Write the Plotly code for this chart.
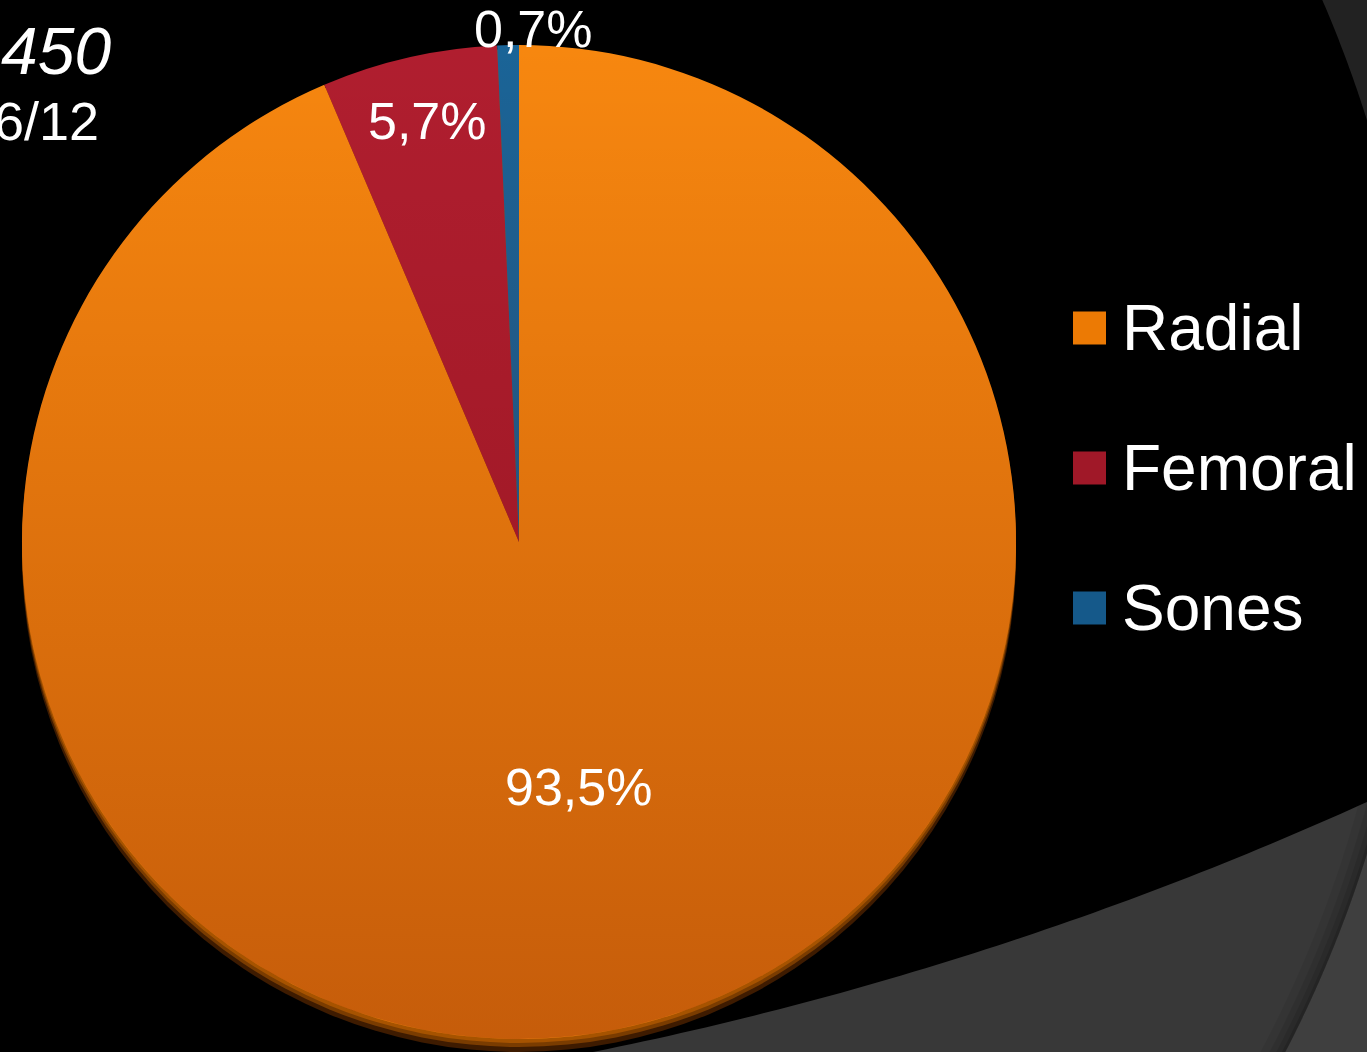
import base64
import numpy as np
import plotly.graph_objects as go

# ---- data -------------------------------------------------------------
categories = ["Radial", "Femoral", "Sones"]
shares = [93.5, 5.7, 0.7]          # percent of cases
header_lines = ["450", "6/12"]

# ---- styling ----------------------------------------------------------
W, H = 1367, 1052
slice_colors = ["#F7870F", "#B01E2F", "#1A6497"]
legend_colors = ["#EC7A04", "#A01828", "#15598A"]
FONT = "Liberation Sans, Arial, sans-serif"

# pie geometry in pixels
CX, CY, R = 519, 542, 497


def px(x):
    return x / W


def py(y):
    return 1 - y / H


def arc_path(cx, cy, r, a0, a1, extra=(), close=True, n=120):
    """Polyline approximation of a circular arc (screen pixels, y down)."""
    t = np.radians(np.linspace(a0, a1, n))
    xs = cx + r * np.cos(t)
    ys = cy + r * np.sin(t)
    pts = list(zip(xs, ys)) + list(extra)
    d = "M " + " L ".join(f"{px(x):.5f},{py(y):.5f}" for x, y in pts)
    return d + (" Z" if close else "")


shapes = []

# background swoosh: grey area outside the large black disc
C1 = (-118, -2472, 3595)
shapes.append(dict(type="path", xref="paper", yref="paper", layer="below",
                   path=arc_path(*C1, 82, 58, extra=[(1750, 1150)]),
                   fillcolor="#383838", line=dict(width=0)))
# second ring on the right edge
C2 = (195, 487, 1228)
shapes.append(dict(type="path", xref="paper", yref="paper", layer="below",
                   path=arc_path(*C2, -30, -12, extra=[(1450, -150)]),
                   fillcolor="#222222", line=dict(width=0)))
shapes.append(dict(type="path", xref="paper", yref="paper", layer="below",
                   path=arc_path(*C2, 12, 34, extra=[(1450, 1200)]),
                   fillcolor="#3F3F3F", line=dict(width=0)))
# soft shadow just inside the lower ring edge
for w, a in [(22, 0.06), (14, 0.08), (8, 0.10), (3, 0.14)]:
    shapes.append(dict(type="path", xref="paper", yref="paper", layer="below",
                       path=arc_path(C2[0], C2[1], C2[2] - w / 2, 12, 34, close=False),
                       line=dict(width=w, color=f"rgba(0,0,0,{a})")))

# rim under the pie for a slight 3D look
for off, col in [(13, "#3E1B00"), (8, "#7A3C00"), (4, "#A65300")]:
    shapes.append(dict(type="circle", xref="paper", yref="paper", layer="below",
                       x0=px(CX - R), x1=px(CX + R), y0=py(CY + R + off), y1=py(CY - R + off),
                       fillcolor=col, line=dict(width=0)))

# legend (large square swatches)
legend_y = [328, 468, 608]
for name, col, yc in zip(categories, legend_colors, legend_y):
    shapes.append(dict(type="rect", xref="paper", yref="paper", layer="above",
                       x0=px(1073), x1=px(1106), y0=py(yc + 16.5), y1=py(yc - 16.5),
                       fillcolor=col, line=dict(width=0)))

annotations = []
for name, yc in zip(categories, legend_y):
    annotations.append(dict(text=name, xref="paper", yref="paper", x=px(1120), y=py(yc),
                            xanchor="left", yanchor="middle", showarrow=False,
                            font=dict(family=FONT, size=64, color="white")))

# percentage labels
label_pos = [(578, 787), (427, 121), (533, 29)]
for v, (lx, ly) in zip(shares, label_pos):
    annotations.append(dict(text=f"{v:.1f}".replace(".", ",") + "%", xref="paper", yref="paper",
                            x=px(lx), y=py(ly), xanchor="center", yanchor="middle",
                            showarrow=False, font=dict(family=FONT, size=52, color="white")))

# header text at the upper left
annotations.append(dict(text=f"<i>{header_lines[0]}</i>", xref="paper", yref="paper",
                        x=px(113), y=py(51), xanchor="right", yanchor="middle", showarrow=False,
                        font=dict(family=FONT, size=66, color="white")))
annotations.append(dict(text=header_lines[1], xref="paper", yref="paper",
                        x=px(101), y=py(121), xanchor="right", yanchor="middle", showarrow=False,
                        font=dict(family=FONT, size=54, color="white")))

# warm vertical shading over the pie face
svg = (
    '<svg xmlns="http://www.w3.org/2000/svg" viewBox="0 0 100 100" preserveAspectRatio="none">'
    '<defs><linearGradient id="g" x1="0" y1="0" x2="0" y2="1">'
    '<stop offset="0" stop-color="#5D0200" stop-opacity="0"/>'
    '<stop offset="1" stop-color="#5D0200" stop-opacity="0.32"/>'
    '</linearGradient></defs>'
    '<circle cx="50" cy="50" r="50" fill="url(#g)"/></svg>'
)
shade_src = "data:image/svg+xml;base64," + base64.b64encode(svg.encode()).decode()

fig = go.Figure(go.Pie(
    labels=categories,
    values=shares,
    sort=False,
    direction="clockwise",
    rotation=0,
    marker=dict(colors=slice_colors, line=dict(width=0)),
    textinfo="none",
    hoverinfo="label+percent",
    showlegend=False,
    domain=dict(x=[px(CX - R), px(CX + R)], y=[py(CY + R), py(CY - R)]),
))

fig.update_layout(
    width=W, height=H,
    margin=dict(l=0, r=0, t=0, b=0),
    paper_bgcolor="black",
    plot_bgcolor="black",
    separators=",.",
    shapes=shapes,
    annotations=annotations,
    images=[dict(source=shade_src, xref="paper", yref="paper",
                 x=px(CX - R), y=py(CY - R), sizex=2 * R / W, sizey=2 * R / H,
                 xanchor="left", yanchor="top", sizing="stretch", layer="above")],
)

fig.write_html("out.html")
